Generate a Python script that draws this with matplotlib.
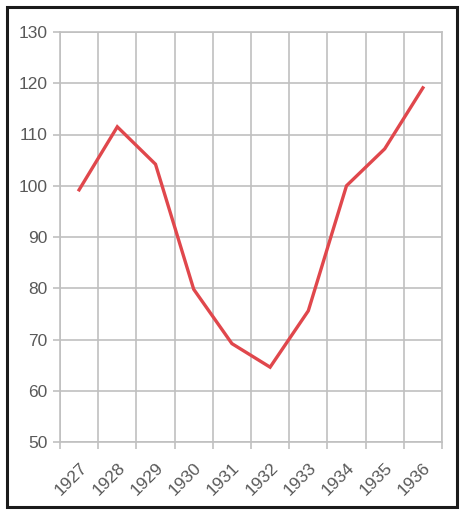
"""Line chart of index values 1927-1936"""

import numpy as np
from matplotlib import pyplot as plt
from matplotlib.patches import Rectangle

years = ['1927', '1928', '1929', '1930', '1931', '1932', '1933', '1934', '1935', '1936']
values = [99.2, 111.5, 104.2, 79.8, 69.2, 64.6, 75.6, 100.0, 107.2, 119.1]
y_ticks = [50, 60, 70, 80, 90, 100, 110, 120, 130]

plt.rcParams['font.family'] = ['Liberation Sans', 'DejaVu Sans']
grid_col = '#c0c0c0'
text_col = '#595959'

fig = plt.figure(figsize=(4.66, 5.15), dpi=100)
ax = fig.add_axes([60 / 466, 1 - 442 / 515, 382 / 466, 410 / 515])

# categories sit in the middle of each slot, gridlines on slot edges
centers = np.arange(len(years)) + 0.5
ax.plot(centers, values, color='#e0474c', lw=2.4, solid_joinstyle='miter', zorder=3)

ax.set_xlim(0, len(years))
ax.set_ylim(y_ticks[0], y_ticks[-1])
ax.set_yticks(y_ticks)
ax.set_xticks(np.arange(len(years) + 1))
ax.set_xticklabels([])
ax.set_xticks(centers, minor=True)
ax.set_xticklabels(years, minor=True, rotation=45, ha='right', va='top',
                   rotation_mode='anchor')

ax.grid(True, which='major', color=grid_col, lw=1.2)
ax.set_axisbelow(True)
for side in ax.spines:
    ax.spines[side].set_color(grid_col)
    ax.spines[side].set_linewidth(1.2)

ax.tick_params(axis='both', which='major', length=5, width=1.2, color=grid_col,
               labelsize=12.5, labelcolor=text_col, pad=4)
ax.tick_params(axis='x', which='minor', length=0, labelsize=12.5,
               labelcolor=text_col, pad=13)

# frame around the whole picture
fig.patches.append(Rectangle((7 / 466, 8 / 515), 450 / 466, 500 / 515,
                             transform=fig.transFigure, fill=False,
                             edgecolor='#1a1a1a', lw=2.2))

fig.savefig('out.png', dpi=100)
